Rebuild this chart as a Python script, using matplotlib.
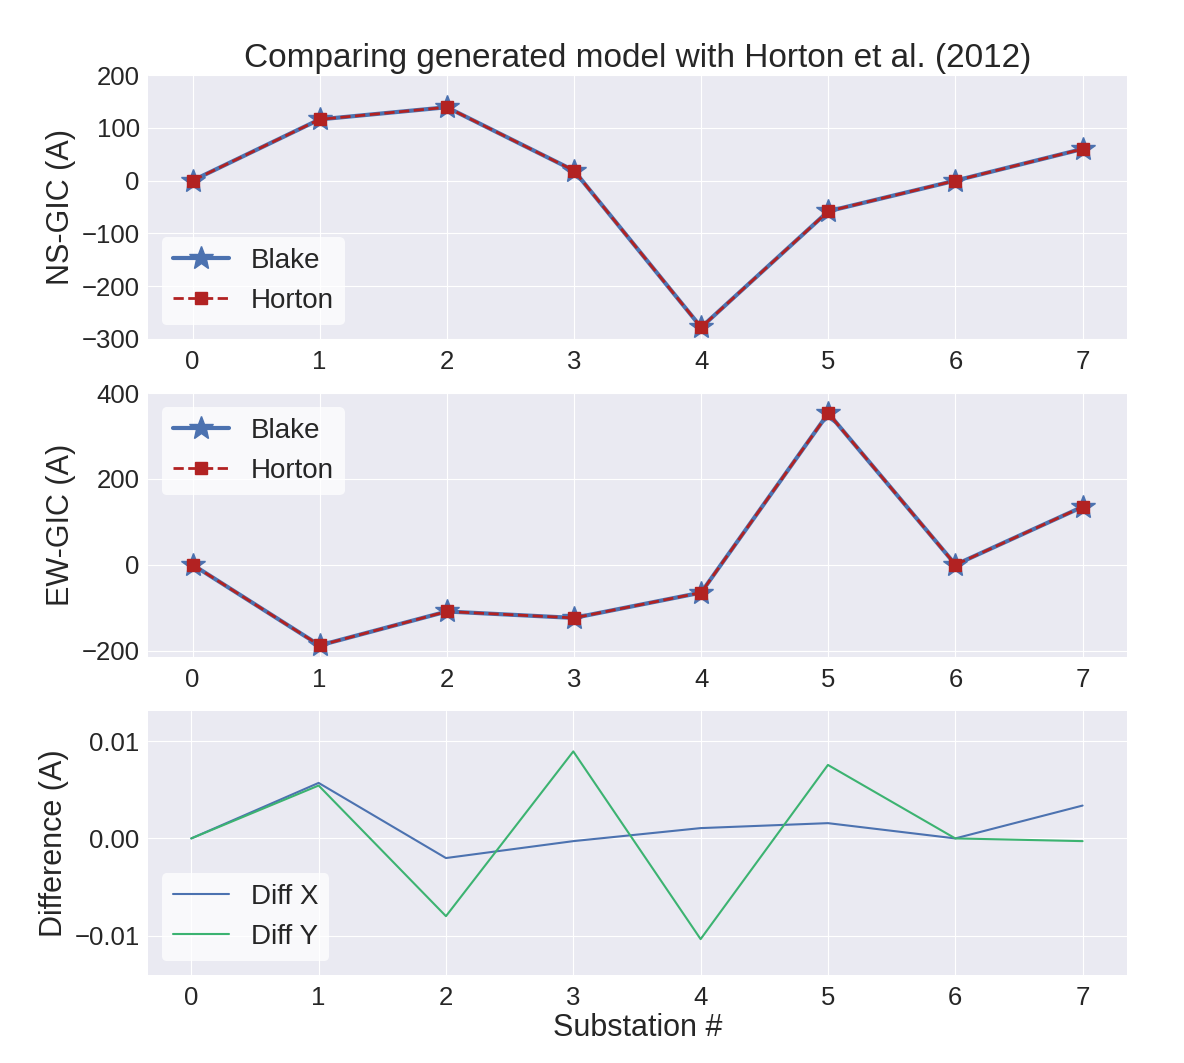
import numpy as np
import matplotlib
matplotlib.use("Agg")
import matplotlib.pyplot as plt

plt.style.use("seaborn-v0_8-darkgrid")
plt.rcParams["font.family"] = ["Liberation Sans", "DejaVu Sans"]

# substation indices
substations = [0, 1, 2, 3, 4, 5, 6, 7]

# NS-GIC (A)
ns_blake = [0, 116, 139, 19, -278, -58, 0, 60]
ns_horton = [0, 116, 139, 19, -278, -58, 0, 60]

# EW-GIC (A)
ew_blake = [0, -188, -109, -124, -65, 353, 0, 135]
ew_horton = [0, -188, -109, -124, -65, 353, 0, 135]

# differences (A)
diff_x = [0, 0.00571, -0.00202, -0.00028, 0.00106, 0.00157, 0, 0.00338]
diff_y = [0, 0.00544, -0.00800, 0.00895, -0.01036, 0.00756, 0, -0.00028]

blue = "#4C72B0"
red = "#B22222"
green = "#3CB371"

fig, axes = plt.subplots(3, 1, figsize=(11.84, 10.63), dpi=100)
fig.subplots_adjust(left=0.125, right=0.952, top=0.9294, bottom=0.0828, hspace=0.205)

tick_fs = 18.5
label_fs = 22
legend_fs = 20

leg_kw = dict(fontsize=legend_fs, frameon=True, facecolor="white",
              edgecolor="none", framealpha=0.75)

# NS panel
ax = axes[0]
ax.plot(substations, ns_blake, "-*", color=blue, lw=3, ms=18, label="Blake")
ax.plot(substations, ns_horton, "--s", color=red, lw=2, ms=8, label="Horton")
ax.set_ylim(-300, 200)
ax.set_ylabel("NS-GIC (A)", fontsize=label_fs)
ax.set_title("Comparing generated model with Horton et al. (2012)", fontsize=24)
ax.legend(loc="lower left", **leg_kw)

# EW panel
ax = axes[1]
ax.plot(substations, ew_blake, "-*", color=blue, lw=3, ms=18, label="Blake")
ax.plot(substations, ew_horton, "--s", color=red, lw=2, ms=8, label="Horton")
ax.set_ylim(-215, 400)
ax.set_ylabel("EW-GIC (A)", fontsize=label_fs)
ax.legend(loc="upper left", **leg_kw)

# difference panel
ax = axes[2]
ax.plot(substations, diff_x, color=blue, lw=1.5, label="Diff X")
ax.plot(substations, diff_y, color=green, lw=1.5, label="Diff Y")
ax.set_xlim(-0.34, 7.35)
ax.set_ylim(-0.01405, 0.0131)
ax.set_yticks([-0.01, 0.0, 0.01])
ax.set_yticklabels(["\u22120.01", "0.00", "0.01"])
ax.set_ylabel("Difference (A)", fontsize=label_fs)
ax.set_xlabel("Substation #", fontsize=label_fs, labelpad=2)
ax.legend(loc="lower left", **leg_kw)

for ax in axes:
    ax.tick_params(axis="x", labelsize=tick_fs, pad=8)
    ax.tick_params(axis="y", labelsize=tick_fs, pad=6)

fig.savefig("out.png", dpi=100)
